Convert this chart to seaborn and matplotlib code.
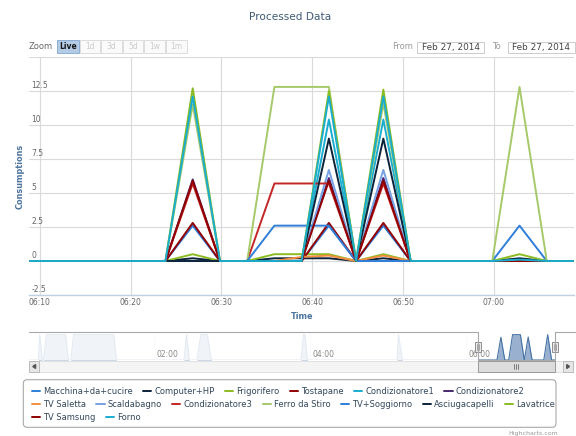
import numpy as np
import pandas as pd
import matplotlib
matplotlib.use("Agg")
import matplotlib.pyplot as plt
import matplotlib.dates as mdates
from matplotlib.patches import Rectangle, FancyBboxPatch, Polygon
from matplotlib.lines import Line2D
from matplotlib.transforms import IdentityTransform
import seaborn as sns

# -----------------------------------------
# Data
# -----------------------------------------

DAY = "2014-02-27 "

times = [
    "06:08:50", "06:11:50", "06:14:50", "06:17:50", "06:20:50", "06:23:50",
    "06:26:50", "06:29:50", "06:32:50", "06:35:50", "06:38:50", "06:41:50",
    "06:44:50", "06:47:50", "06:50:50", "06:53:50", "06:56:50", "06:59:50",
    "07:02:50", "07:05:50", "07:08:50",
]

macchina = [0, 0, 0, 0, 0, 0, 2.6, 0, 0, 0, 0, 2.6, 0, 2.6, 0, 0, 0, 0, 2.6, 0, 0]
computer_hp = [0, 0, 0, 0, 0, 0, 0.2, 0, 0, 0.2, 0.2, 0.2, 0, 0.2, 0, 0, 0, 0, 0.2, 0, 0]
frigorifero = [0, 0, 0, 0, 0, 0, 0.5, 0, 0, 0.5, 0.5, 0.5, 0, 0.5, 0, 0, 0, 0, 0.5, 0, 0]
tostapane = [0, 0, 0, 0, 0, 0, 2.8, 0, 0, 0, 0, 2.8, 0, 2.8, 0, 0, 0, 0, 0, 0, 0]
condizionatore1 = [0, 0, 0, 0, 0, 0, 0, 0, 0, 0, 0, 10.4, 0, 10.4, 0, 0, 0, 0, 0, 0, 0]
condizionatore2 = [0, 0, 0, 0, 0, 0, 6.0, 0, 0, 0, 0, 6.1, 0, 6.1, 0, 0, 0, 0, 0, 0, 0]
tv_saletta = [0, 0, 0, 0, 0, 0, 0, 0, 0, 0, 0.3, 0.4, 0, 0.4, 0, 0, 0, 0, 0, 0, 0]
scaldabagno = [0, 0, 0, 0, 0, 0, 0, 0, 0, 0, 0, 6.7, 0, 6.7, 0, 0, 0, 0, 0, 0, 0]
condizionatore3 = [0, 0, 0, 0, 0, 0, 5.7, 0, 0, 5.7, 5.7, 5.7, 0, 5.7, 0, 0, 0, 0, 0, 0, 0]
ferro_da_stiro = [0, 0, 0, 0, 0, 0, 11.5, 0, 0, 12.8, 12.8, 12.8, 0, 11.6, 0, 0, 0, 0, 12.8, 0, 0]
tv_soggiorno = [0, 0, 0, 0, 0, 0, 0, 0, 0, 2.6, 2.6, 2.6, 0, 0, 0, 0, 0, 0, 0, 0, 0]
asciugacapelli = [0, 0, 0, 0, 0, 0, 0, 0, 0, 0, 0, 9.0, 0, 9.0, 0, 0, 0, 0, 0, 0, 0]
lavatrice = [0, 0, 0, 0, 0, 0, 12.7, 0, 0, 0, 0, 12.5, 0, 12.6, 0, 0, 0, 0, 0, 0, 0]
tv_samsung = [0, 0, 0, 0, 0, 0, 5.9, 0, 0, 0, 0, 5.9, 0, 5.9, 0, 0, 0, 0, 0, 0, 0]
forno = [0, 0, 0, 0, 0, 0, 12.1, 0, 0, 0, 0, 12.1, 0, 12.1, 0, 0, 0, 0, 0.1, 0, 0]

series_names = [
    "Macchina+da+cucire", "Computer+HP", "Frigorifero", "Tostapane",
    "Condizionatore1", "Condizionatore2", "TV Saletta", "Scaldabagno",
    "Condizionatore3", "Ferro da Stiro", "TV+Soggiorno", "Asciugacapelli",
    "Lavatrice", "TV Samsung", "Forno",
]
series_values = [
    macchina, computer_hp, frigorifero, tostapane, condizionatore1,
    condizionatore2, tv_saletta, scaldabagno, condizionatore3, ferro_da_stiro,
    tv_soggiorno, asciugacapelli, lavatrice, tv_samsung, forno,
]
series_colors = [
    "#2f7ed8", "#0d233a", "#8bbc21", "#910000", "#1aadce", "#492970",
    "#f28f43", "#77a1e5", "#c42525", "#a6c96a", "#2f7ed8", "#0d233a",
    "#8bbc21", "#910000", "#1aadce",
]

# navigator history (earlier in the day), overview series
nav_hist_times = [
    "00:24:00", "00:31:00", "00:32:00", "00:34:00", "00:35:00", "00:37:00",
    "00:52:00", "00:54:00", "00:56:00", "00:58:00", "01:29:00", "01:31:00",
    "02:23:00", "02:25:00", "02:27:00", "02:33:00", "02:36:00", "02:41:00",
    "02:44:00", "03:53:00", "03:55:00", "03:56:00", "03:58:00", "05:07:00",
    "05:08:00", "05:11:00",
]
nav_hist_values = [
    0, 0, 12.8, 0, 0, 12.8, 12.8, 0, 0, 12.8, 12.8, 0, 0, 12.8, 0, 0, 12.8,
    12.8, 0, 0, 12.8, 12.8, 0, 0, 12.8, 0,
]
nav_range = ("00:24:00", "07:20:00")
nav_ticks = ["02:00:00", "04:00:00", "06:00:00"]

y_ticks = [-2.5, 0, 2.5, 5, 7.5, 10, 12.5, 15]
zoom_buttons = ["Live", "1d", "3d", "5d", "1w", "1m"]
date_text = "Feb 27, 2014"
legend_rows = [6, 7, 2]

# -----------------------------------------
# Prepare data
# -----------------------------------------

t_main = pd.to_datetime([DAY + t for t in times])
frames = []
for name, vals in zip(series_names, series_values):
    frames.append(pd.DataFrame({"time": t_main, "value": vals, "series": name}))
df = pd.concat(frames, ignore_index=True)

nav_t = pd.to_datetime([DAY + t for t in nav_hist_times + times])
nav_v = nav_hist_values + ferro_da_stiro
nav_lo, nav_hi = pd.to_datetime([DAY + t for t in nav_range])

# -----------------------------------------
# Plot
# -----------------------------------------

sns.set_style("white")
plt.rcParams["font.family"] = ["DejaVu Sans"]

W, H = 576, 436
fig = plt.figure(figsize=(W / 100, H / 100), dpi=100)
ident = IdentityTransform()


def box(x0, y0, x1, y1, **kw):
    # image px (y from top) -> display px
    p = Rectangle((x0, H - y1), x1 - x0, y1 - y0, transform=ident, **kw)
    fig.add_artist(p)
    return p


def text(x, y, s, **kw):
    return fig.text(x, H - y, s, transform=ident, **kw)


ax = fig.add_axes([29.3 / W, 1 - 295 / H, (574 - 29.3) / W, (295 - 57) / H])

sns.lineplot(
    data=df, x="time", y="value", hue="series", hue_order=series_names,
    palette=series_colors, estimator=None, linewidth=1.4, legend=False, ax=ax
)

ax.set_xlim(t_main[0], t_main[-1])
ax.set_ylim(y_ticks[0], y_ticks[-1])
ax.set_xlabel("")
ax.set_ylabel("")
ax.set_yticks(y_ticks)
ax.tick_params(axis="y", left=False, labelleft=False)
for v in y_ticks[:-1]:
    ax.annotate(
        f"{v:g}", xy=(0, v), xycoords=("axes fraction", "data"),
        xytext=(1.5, 0.6), textcoords="offset points",
        ha="left", va="bottom", fontsize=5.5, color="#666666"
    )

ax.xaxis.set_major_locator(mdates.MinuteLocator(byminute=range(0, 60, 10)))
ax.xaxis.set_major_formatter(mdates.DateFormatter("%H:%M"))
ax.tick_params(axis="x", length=0, labelsize=5.5, labelcolor="#666666", pad=2.5)
ax.grid(True, color="#dadada", linewidth=0.8)
ax.set_axisbelow(True)
for s in ["top", "right", "left"]:
    ax.spines[s].set_visible(False)
ax.spines["bottom"].set_color("#c0d0e0")
ax.spines["bottom"].set_linewidth(1.0)

# titles
text(290, 16.5, "Processed Data", ha="center", va="center", fontsize=7.6, color="#3e5a78")
text(301.7, 316.7, "Time", ha="center", va="center", fontsize=5.9,
     fontweight="bold", color="#4d759e")
text(20, 176, "Consumptions", ha="center", va="center", rotation=90,
     fontsize=5.9, fontweight="bold", color="#4d759e")

# range selector
text(29, 46.5, "Zoom", ha="left", va="center", fontsize=6, color="#666666")
btn_x = [(57, 79), (80, 100), (101, 122), (123, 143), (144, 165), (166, 187)]
for (x0, x1), label in zip(btn_x, zoom_buttons):
    live = label == "Live"
    box(x0, 40, x1, 53, facecolor="#b4cbe6" if live else "#fafafa",
        edgecolor="#8eaed4" if live else "#dddddd", linewidth=0.7)
    text((x0 + x1) / 2, 46.5, label, ha="center", va="center", fontsize=5.5,
         color="#1a1a1a" if live else "#cccccc",
         fontweight="bold" if live else "normal")

text(392, 46.5, "From", ha="left", va="center", fontsize=6, color="#999999")
box(417, 41.7, 484, 53.3, facecolor="white", edgecolor="#cccccc", linewidth=0.7)
text(450.5, 47, date_text, ha="center", va="center", fontsize=6.4, color="#444444")
text(491.7, 46.5, "To", ha="left", va="center", fontsize=6, color="#999999")
box(508, 41.7, 575, 53.3, facecolor="white", edgecolor="#cccccc", linewidth=0.7)
text(541.5, 47, date_text, ha="center", va="center", fontsize=6.4, color="#444444")

# navigator
ax_nav = fig.add_axes([29.3 / W, 1 - 360 / H, (570 - 29.3) / W, (360 - 332.3) / H])
ax_nav.fill_between(nav_t, nav_v, color="#4572a7", alpha=0.55, linewidth=0)
sns.lineplot(x=nav_t, y=nav_v, color="#4572a7", linewidth=0.8, ax=ax_nav)
ax_nav.set_xlabel("")
ax_nav.set_ylabel("")
ax_nav.set_xlim(nav_lo, nav_hi)
ax_nav.set_ylim(0, 14)
ax_nav.axvspan(nav_lo, t_main[0], color="white", alpha=0.86, linewidth=0, zorder=3)
ax_nav.axvspan(t_main[-1], nav_hi, color="white", alpha=0.86, linewidth=0, zorder=3)
nav_tick_t = pd.to_datetime([DAY + t for t in nav_ticks])
ax_nav.set_xticks(nav_tick_t)
ax_nav.grid(axis="x", color="#e8e8e8", linewidth=0.8)
ax_nav.set_axisbelow(True)
ax_nav.tick_params(length=0, labelbottom=False, labelleft=False)
ax_nav.set_yticks([])
for s in ax_nav.spines.values():
    s.set_visible(False)
for t in nav_tick_t:
    ax_nav.annotate(
        t.strftime("%H:%M"), xy=(t, 0), xycoords=("data", "axes fraction"),
        xytext=(2, 0.8), textcoords="offset points", ha="left", va="bottom",
        fontsize=5.5, color="#888888", zorder=5
    )

xl = ax_nav.transData.transform((mdates.date2num(t_main[0]), 0))[0]
xr = ax_nav.transData.transform((mdates.date2num(t_main[-1]), 0))[0]

fig.add_artist(Line2D(
    [29.3, xl, xl, xr, xr, 576],
    [H - 332.3, H - 332.3, H - 360, H - 360, H - 332.3, H - 332.3],
    transform=ident, color="#a8a8ac", linewidth=0.8
))

# scrollbar
box(29.3, 361, 573, 372, facecolor="#f4f4f4", edgecolor="#dddddd", linewidth=0.6)
box(xl, 361, xr, 372, facecolor="#dcdcdc", edgecolor="#9a9a9a", linewidth=0.7)
xc = (xl + xr) / 2
for dx in (-2, 0, 2):
    fig.add_artist(Line2D([xc + dx, xc + dx], [H - 364, H - 369],
                          transform=ident, color="#555555", linewidth=0.5))
box(29.3, 361, 39.3, 372, facecolor="#e6e6e6", edgecolor="#b5b5b5", linewidth=0.6)
box(563, 361, 573, 372, facecolor="#e6e6e6", edgecolor="#b5b5b5", linewidth=0.6)
fig.add_artist(Polygon([[32.8, H - 366.5], [35.6, H - 364.5], [35.6, H - 368.5]],
                       closed=True, transform=ident, color="#555555"))
fig.add_artist(Polygon([[569.5, H - 366.5], [566.7, H - 364.5], [566.7, H - 368.5]],
                       closed=True, transform=ident, color="#555555"))

# navigator handles
for xh in (xl, xr):
    box(xh - 3, 341.5, xh + 3, 352, facecolor="#eeeaeb", edgecolor="#8f8f8f", linewidth=0.7)
    for dx in (-1, 1):
        fig.add_artist(Line2D([xh + dx, xh + dx], [H - 344, H - 349.5],
                              transform=ident, color="#8f8f8f", linewidth=0.5))

# legend
fig.add_artist(FancyBboxPatch(
    (23.3, H - 427.3), 556 - 23.3, 427.3 - 379.7,
    boxstyle="round,pad=0,rounding_size=4", transform=ident,
    facecolor="white", edgecolor="#a9a9a9", linewidth=0.8
))
renderer = fig.canvas.get_renderer()
row_y = [391.3, 404.0, 417.0]
k = 0
for r, n_items in enumerate(legend_rows):
    x = 31.7
    for _ in range(n_items):
        fig.add_artist(Line2D([x, x + 8.3], [H - row_y[r], H - row_y[r]],
                              transform=ident, color=series_colors[k], linewidth=1.4))
        t = text(x + 11.6, row_y[r], series_names[k], ha="left", va="center",
                 fontsize=6, color="#33475b")
        x += 11.6 + t.get_window_extent(renderer).width + 10
        k += 1

text(558, 433, "Highcharts.com", ha="right", va="center", fontsize=4.5, color="#999999")

plt.savefig("out.png", dpi=100)
plt.close(fig)
